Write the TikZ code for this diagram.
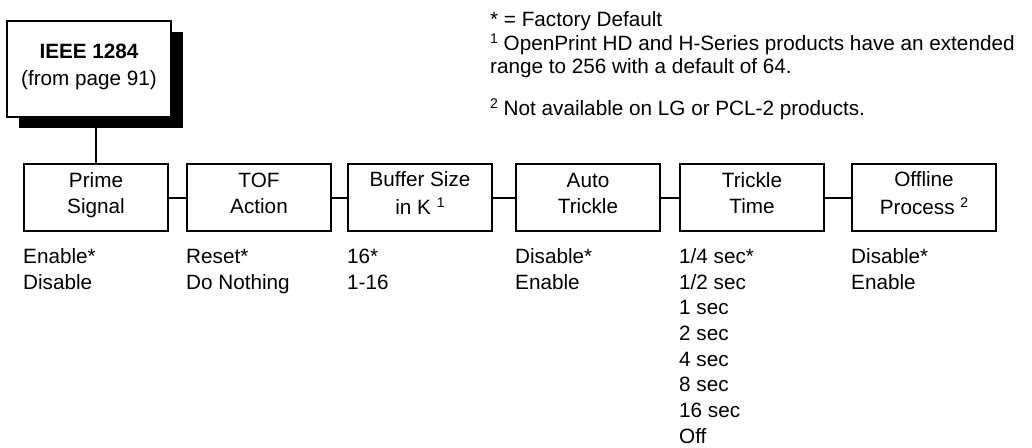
\documentclass[tikz,border=0pt]{standalone}
\usepackage{fontspec}
\setmainfont{Liberation Sans}
\usetikzlibrary{shadows}
\newcommand\supnum[1]{{\fontsize{14}{14}\selectfont\raisebox{7pt}{#1}}}
\newcommand\bst{\rule[-10.25pt]{0pt}{26.5pt}}
\begin{document}
\begin{tikzpicture}[x=1pt,y=-1pt,
  every node/.style={font=\fontsize{20.7}{26.5}\selectfont},
  menubox/.style={draw, line width=2pt, minimum width=144pt, minimum height=67pt, inner sep=0pt, align=center, fill=white},
  topbox/.style={draw, line width=2pt, minimum width=164pt, minimum height=96pt, inner sep=0pt, align=center, fill=white,
    drop shadow={shadow xshift=11.5pt, shadow yshift=-10.5pt, fill=black, opacity=1}},
  opts/.style={anchor=north west, inner sep=0pt, align=left, font=\fontsize{20.7}{25.7}\selectfont},
  foot/.style={anchor=base west, inner sep=0pt},
  link/.style={line width=2pt}]
\useasboundingbox (0,0) rectangle (1032,447);

% footnotes
\node[foot] (fnA) at (490,26) {* = Factory Default};
\node[foot] (fnB) at (490,50) {\supnum{1} OpenPrint HD and H-Series products have an extended};
\node[foot] (fnC) at (490,73) {range to 256 with a default of 64.};
\node[foot] (fnD) at (490,115) {\supnum{2} Not available on LG or PCL-2 products.};

% top box
\node[topbox] (ieee) at (89,69) {\bst\textbf{IEEE 1284}\\\bst(from page 91)};

% menu boxes
\node[menubox] (prime) at (96,197.5) {\bst Prime\\\bst Signal};
\node[menubox] (tof) at (259,197.5) {\bst TOF\\\bst Action};
\node[menubox] (buf) at (420,197.5) {\bst Buffer Size\\\bst in K \supnum{1}};
\node[menubox] (auto) at (588,197.5) {\bst Auto\\\bst Trickle};
\node[menubox] (trick) at (752,197.5) {\bst Trickle\\\bst Time};
\node[menubox] (off) at (924,197.5) {\bst Offline\\\bst Process \supnum{2}};

% connectors
\draw[link] (prime.north) -- (prime.north |- ieee.south);
\draw[link] (prime.east) -- (tof.west);
\draw[link] (tof.east) -- (buf.west);
\draw[link] (buf.east) -- (auto.west);
\draw[link] (auto.east) -- (trick.west);
\draw[link] (trick.east) -- (off.west);

% option lists
\node[opts] (primeopts) at ([yshift=-15pt]prime.south west) {\bst Enable*\\Disable};
\node[opts] (tofopts) at ([yshift=-15pt]tof.south west) {\bst Reset*\\Do Nothing};
\node[opts] (bufopts) at ([yshift=-15pt]buf.south west) {\bst 16*\\1-16};
\node[opts] (autoopts) at ([yshift=-15pt]auto.south west) {\bst Disable*\\Enable};
\node[opts] (trickopts) at ([yshift=-15pt]trick.south west) {\bst 1/4 sec*\\1/2 sec\\1 sec\\2 sec\\4 sec\\8 sec\\16 sec\\Off};
\node[opts] (offopts) at ([yshift=-15pt]off.south west) {\bst Disable*\\Enable};
\end{tikzpicture}
\end{document}
